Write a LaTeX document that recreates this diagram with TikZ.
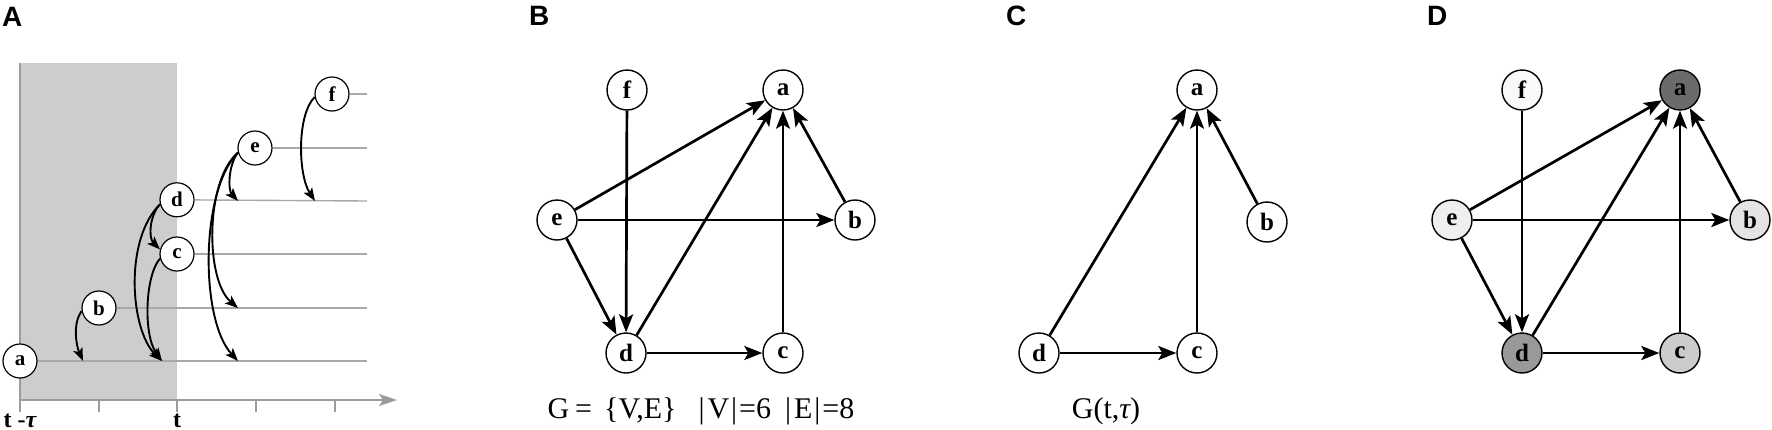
\documentclass[tikz,border=0pt]{standalone}
\usepackage{fontspec}
\setmainfont{Liberation Serif}
\setsansfont{Liberation Sans}
\usetikzlibrary{arrows.meta, positioning}

\definecolor{windowgrey}{HTML}{CDCDCD}
\definecolor{trackgrey}{HTML}{A8A8A8}
\definecolor{axisgrey}{HTML}{9C9C9C}
\definecolor{shadeA}{HTML}{6B6B6B}
\definecolor{shadeD}{HTML}{999999}
\definecolor{shadeC}{HTML}{CCCCCC}
\definecolor{shadeB}{HTML}{E3E3E3}
\definecolor{shadeE}{HTML}{EFEFEF}
\definecolor{shadeF}{HTML}{F9F9F9}

\begin{document}
\begin{tikzpicture}[
  x=1pt, y=1pt,
  panel/.style={anchor=base west, inner sep=0pt, font=\sffamily\bfseries\fontsize{28}{28}\selectfont},
  vtx/.style={draw, circle, fill=white, line width=1.4pt, minimum size=40pt, inner sep=0pt, font=\bfseries\fontsize{25}{25}\selectfont},
  avtx/.style={vtx, minimum size=34pt, line width=1.2pt, font=\bfseries\fontsize{21}{21}\selectfont},
  edge/.style={-{Stealth[length=18pt, width=14pt, inset=4pt]}, line width=2.7pt},
  hop/.style={-{Stealth[length=13pt, width=10pt, inset=3pt]}, line width=1.9pt},
  track/.style={draw=trackgrey, line width=1.4pt},
  axisline/.style={draw=axisgrey, line width=2pt},
  ticklabel/.style={anchor=base, inner sep=0pt, font=\bfseries\fontsize{24}{24}\selectfont},
  caption/.style={anchor=base, inner sep=0pt, font=\fontsize{30}{30}\selectfont}
]
\useasboundingbox (0,0) rectangle (1772,-429);

% Panel labels
\node[panel] (labA) at (2,-26) {A};
\node[panel] (labB) at (529,-25) {B};
\node[panel] (labC) at (1006,-25) {C};
\node[panel] (labD) at (1427,-25) {D};

% Time window and axis
\fill[windowgrey] (20,-63) rectangle (177,-400);
\coordinate (origin) at (20,-400);
\coordinate (ytop) at (20,-63);
\coordinate (ybot) at (20,-412);
\coordinate (tend) at (397,-400);
\draw[axisline] (ytop) -- (ybot);
\draw[axisline, -{Stealth[length=18pt, width=12pt, inset=4pt]}] (origin) -- (tend);
\foreach \x in {99,177,256,335}
  \draw[axisline] (\x,-400) -- (\x,-412);
\node[ticklabel] (tlow) at (20,-427) {t -{\itshape τ}};
\node[ticklabel] (thigh) at (177,-427) {t};

% Event nodes
\node[avtx] (Aa) at (20,-361) {a};
\node[avtx] (Ab) at (99,-308) {b};
\node[avtx] (Ac) at (177,-254) {c};
\node[avtx, above=19pt of Ac] (Ad) {d};
\node[avtx] (Ae) at (255,-148) {e};
\node[avtx] (Af) at (332,-94) {f};

% Tracks
\coordinate (enda) at (367,-361);
\coordinate (endb) at (367,-308);
\coordinate (endc) at (367,-254);
\coordinate (endd) at (367,-201);
\coordinate (ende) at (367,-148);
\coordinate (endf) at (367,-94);
\draw[track] (Aa) -- (enda);
\draw[track] (Ab) -- (endb);
\draw[track] (Ac) -- (endc);
\draw[track] (Ad) -- (endd);
\draw[track] (Ae) -- (ende);
\draw[track] (Af) -- (endf);

% Hits on the tracks
\coordinate (hitb) at (83,-361);
\coordinate (hitd) at (162,-361);
\coordinate (hite1) at (238,-201);
\coordinate (hite2) at (238,-308);
\coordinate (hite3) at (238,-361);
\coordinate (hitf) at (315,-201);

\draw[hop] (Ab.190) .. controls +(-9,-12) and +(-7,16) .. (hitb);
\draw[hop] (Ad.195) .. controls +(-10,-10) and +(-12,12) .. (Ac.165);
\draw[hop] (Ad.195) .. controls +(-36,-35) and +(-32,31) .. (hitd);
\draw[hop] (Ac.195) .. controls +(-15,-17) and +(-19,26) .. (hitd);
\draw[hop] (Ae.195) .. controls +(-10,-13) and +(-10,11) .. (hite1);
\draw[hop] (Ae.195) .. controls +(-33,-28) and +(-33,28) .. (hite2);
\draw[hop] (Ae.195) .. controls +(-38,-38) and +(-38,41) .. (hite3);
\draw[hop] (Af.190) .. controls +(-18,-18) and +(-17,26) .. (hitf);

% Graph G
\node[vtx] (Bf) at (627,-90) {f};
\node[vtx] (Ba) at (783,-90) {a};
\node[vtx] (Be) at (557,-220) {e};
\node[vtx] (Bb) at (855,-220) {b};
\node[vtx] (Bd) at (626,-353) {d};
\node[vtx] (Bc) at (783,-353) {c};

\draw[edge] (Be) -- (Ba);
\draw[edge] (Be) -- (Bb);
\draw[edge] (Be) -- (Bd);
\draw[edge] (Bf) -- (Bd);
\draw[edge] (Bd) -- (Ba);
\draw[edge] (Bd) -- (Bc);
\draw[edge] (Bc) -- (Ba);
\draw[edge] (Bb) -- (Ba);

\node[caption] (capB) at (701,-418) {G\hspace{6pt}=\hspace{12pt}\{V,E\}\hspace{22pt}|\hspace{3pt}V\hspace{2pt}|\hspace{2pt}=6\hspace{14pt}|\hspace{3pt}E\hspace{2pt}|\hspace{2pt}=8};

% Window graph
\node[vtx] (Ca) at (1197,-90) {a};
\node[vtx] (Cb) at (1267,-222) {b};
\node[vtx] (Cd) at (1039,-353) {d};
\node[vtx] (Cc) at (1197,-353) {c};

\draw[edge] (Cd) -- (Ca);
\draw[edge] (Cc) -- (Ca);
\draw[edge] (Cb) -- (Ca);
\draw[edge] (Cd) -- (Cc);

\node[caption] (capC) at (1106,-418) {G(t,{\itshape τ})};

% Shaded graph
\node[vtx, fill=shadeF] (Df) at (1522,-90) {f};
\node[vtx, fill=shadeA] (Da) at (1680,-90) {a};
\node[vtx, fill=shadeE] (De) at (1452,-220) {e};
\node[vtx, fill=shadeB] (Db) at (1750,-220) {b};
\node[vtx, fill=shadeD] (Dd) at (1522,-353) {d};
\node[vtx, fill=shadeC] (Dc) at (1680,-353) {c};

\draw[edge] (De) -- (Da);
\draw[edge] (De) -- (Db);
\draw[edge] (De) -- (Dd);
\draw[edge] (Df) -- (Dd);
\draw[edge] (Dd) -- (Da);
\draw[edge] (Dd) -- (Dc);
\draw[edge] (Dc) -- (Da);
\draw[edge] (Db) -- (Da);

\end{tikzpicture}
\end{document}
